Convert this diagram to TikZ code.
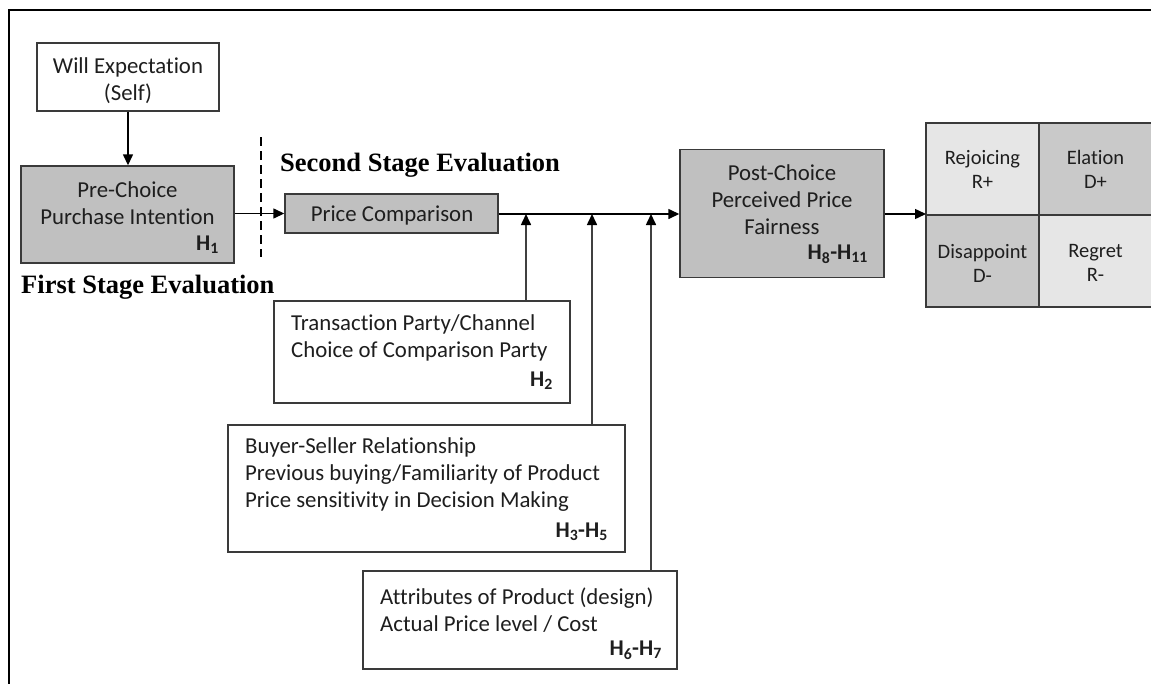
\documentclass[tikz,border=0pt]{standalone}
\usepackage{fontspec}
\setmainfont[Ligatures={NoCommon}]{Carlito}
\newfontfamily\tnr{Liberation Serif}
\usetikzlibrary{arrows.meta}
\definecolor{boxline}{HTML}{3A3A3A}
\definecolor{boxgray}{HTML}{C0C0C0}
\definecolor{celllight}{HTML}{E6E6E6}
\definecolor{celldark}{HTML}{C9C9C9}
\definecolor{txtcol}{HTML}{1E1E1E}
\begin{document}
\begin{tikzpicture}[x=1pt,y=-1pt,
  boxw/.style={draw=boxline,line width=1.4pt,fill=white,inner sep=0pt},
  boxg/.style={boxw,fill=boxgray},
  txt/.style={font=\fontsize{22.8}{27}\selectfont,align=center,inner sep=0pt,text=txtcol},
  txtl/.style={txt,align=left,anchor=west},
  ctxt/.style={font=\fontsize{20.5}{24}\selectfont,align=center,inner sep=0pt,text=txtcol},
  hlab/.style={font=\fontsize{22.5}{24}\selectfont\bfseries,anchor=east,inner sep=0pt,text=txtcol},
  stage/.style={font=\tnr\bfseries\fontsize{26.5}{30}\selectfont,anchor=west,inner sep=0pt},
  arr/.style={line width=1.4pt,-{Triangle[length=11pt,width=10pt]}},
  feed/.style={line width=1.6pt,draw=black!75,-{Triangle[length=11pt,width=10pt,fill=black,color=black]}},
  cell/.style={draw=boxline,line width=1.2pt,inner sep=0pt,minimum width=113pt,minimum height=92pt}
]
\useasboundingbox (0,0) rectangle (1151,683);
% frame
\draw[line width=2pt] (1152,10) -- (9,10) -- (9,684);

% boxes
\node[boxw,minimum width=182pt,minimum height=68pt] (will) at (128,77) {};
\node[txt] (willt) at (128,80.5) {Will Expectation\\(Self)};

\node[boxg,minimum width=213pt,minimum height=97pt] (pre) at (127.5,214.5) {};
\node[txt] (pret) at (127.5,203.5) {Pre-Choice\\Purchase Intention};
\node[hlab] (h1) at (219,245) {H\textsubscript{1}};

\node[boxg,minimum width=213pt,minimum height=39pt] (price) at (391.5,213.5) {};
\node[txt] (pricet) at (392,215) {Price Comparison};

\node[boxg,minimum width=204pt,minimum height=128pt] (post) at (782,213.5) {};
\node[txt] (postt) at (782,199.5) {Post-Choice\\Perceived Price\\Fairness};
\node[hlab] (h8) at (868,254) {H\textsubscript{8}-H\textsubscript{11}};

\node[boxw,minimum width=296pt,minimum height=102pt] (trans) at (422,352) {};
\node[txtl] (transt) at (291,338) {Transaction Party/Channel\\Choice of Comparison Party};
\node[hlab] (h2) at (553,381) {H\textsubscript{2}};

\node[boxw,minimum width=397pt,minimum height=127pt] (buyer) at (426.5,488.5) {};
\node[txtl] (buyert) at (245,474.5) {Buyer-Seller Relationship\\Previous buying/Familiarity of Product\\Price sensitivity in Decision Making};
\node[hlab] (h3) at (608,532) {H\textsubscript{3}-H\textsubscript{5}};

\node[boxw,minimum width=314pt,minimum height=98pt] (attr) at (520,620) {};
\node[txtl] (attrt) at (380,610) {Attributes of Product (design)\\Actual Price level / Cost};
\node[hlab] (h6) at (662,650) {H\textsubscript{6}-H\textsubscript{7}};

% outcome grid
\node[cell,fill=celllight] (c11) at (982.5,169) {};
\node[cell,fill=celldark] (c12) at (1095.5,169) {};
\node[cell,fill=celldark] (c21) at (982.5,261) {};
\node[cell,fill=celllight] (c22) at (1095.5,261) {};
\node[ctxt] (c11t) at (982.5,169) {Rejoicing\\R+};
\node[ctxt] (c12t) at (1095.5,169) {Elation\\D+};
\node[ctxt] (c21t) at (982.5,263) {Disappoint\\D-};
\node[ctxt] (c22t) at (1095.5,263) {Regret\\R-};
\coordinate (gridw) at (926,214);

% stage labels
\node[stage] (second) at (280,165) {Second Stage Evaluation};
\node[stage] (first) at (21,287) {First Stage Evaluation};

% dashed divider
\coordinate (dtop) at (261,137);
\coordinate (dbot) at (261,257);
\draw[line width=1.6pt,dash pattern=on 9pt off 5pt] (dtop) -- (dbot);

% connectors
\draw[arr] (will.south) -- (will.south |- pre.north);
\draw[arr] (pre.east |- price.west) -- (price.west);
\coordinate (j1) at (526,214);
\coordinate (j2) at (592,214);
\coordinate (j3) at (651,214);
\draw[arr] (price.east |- j1) -- (post.west |- j1);
\draw[arr] (post.east |- gridw) -- (gridw);
\draw[feed] (trans.north -| j1) -- (j1);
\draw[feed] (buyer.north -| j2) -- (j2);
\draw[feed] (attr.north -| j3) -- (j3);
\end{tikzpicture}
\end{document}
